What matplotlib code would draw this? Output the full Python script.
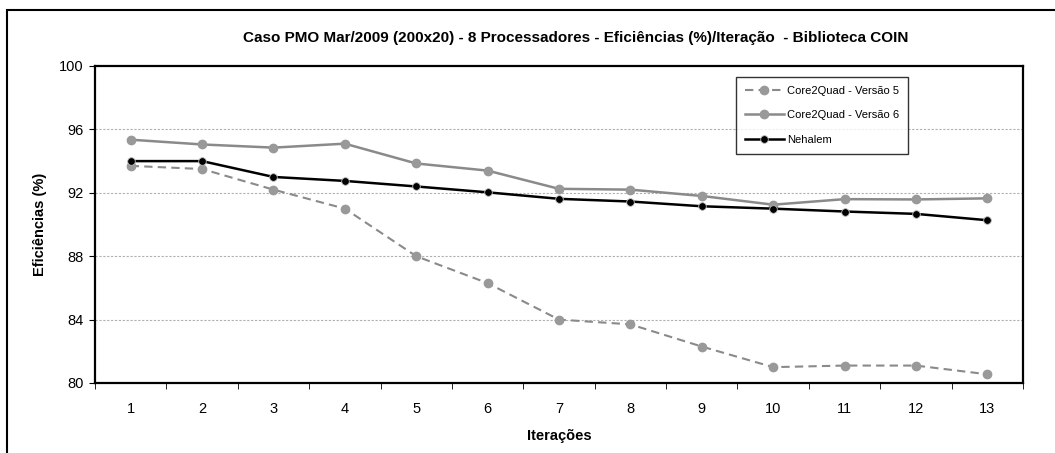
import matplotlib
matplotlib.use("Agg")
import matplotlib.pyplot as plt
import numpy as np
from matplotlib.patches import Rectangle

plt.rcParams["font.family"] = ["Liberation Sans", "DejaVu Sans"]

iteracoes = [1, 2, 3, 4, 5, 6, 7, 8, 9, 10, 11, 12, 13]
versao5 = [93.7, 93.5, 92.2, 91.0, 88.0, 86.3, 84.0, 83.7, 82.3, 81.0, 81.1, 81.1, 80.55]
versao6 = [95.35, 95.05, 94.85, 95.1, 93.85, 93.4, 92.25, 92.2, 91.8, 91.25, 91.6, 91.58, 91.65]
nehalem = [94.0, 94.0, 93.0, 92.75, 92.4, 92.03, 91.62, 91.45, 91.15, 91.0, 90.82, 90.67, 90.27]

W, H = 1055, 453
fig = plt.figure(figsize=(W / 100, H / 100), dpi=100)
ax = fig.add_axes([95 / W, 1 - 383 / H, (1023 - 95) / W, (383 - 66) / H])

# outer chart frame (cropped on the right and bottom)
fig.patches.append(Rectangle((7 / W, -0.1), 1.2, 1 - 10 / H + 0.1,
                             transform=fig.transFigure, fill=False,
                             edgecolor="black", linewidth=1.5))

x = np.arange(len(iteracoes))
ax.plot(x, versao5, color="#8a8a8a", linestyle=(0, (4, 2.5)), linewidth=1.5,
        marker="o", markersize=6, markerfacecolor="#999999",
        markeredgecolor="#999999", label="Core2Quad - Versão 5", zorder=3)
ax.plot(x, versao6, color="#8a8a8a", linewidth=1.8,
        marker="o", markersize=6, markerfacecolor="#999999",
        markeredgecolor="#999999", label="Core2Quad - Versão 6", zorder=3)
ax.plot(x, nehalem, color="black", linewidth=1.8,
        marker="o", markersize=5.5, markerfacecolor="black",
        markeredgecolor="#bbbbbb", markeredgewidth=0.6,
        label="Nehalem", zorder=4)

ax.set_xlim(-0.5, len(iteracoes) - 0.5)
ax.set_ylim(80, 100)
ax.set_yticks(np.arange(80, 101, 4))
ax.set_xticks(x)
ax.set_xticklabels([str(i) for i in iteracoes])
ax.set_xticks(np.arange(-0.5, len(iteracoes)), minor=True)
ax.tick_params(axis="x", which="major", length=0, pad=14, labelsize=10.5)
ax.tick_params(axis="x", which="minor", length=4, direction="out")
ax.tick_params(axis="y", length=4, direction="out", labelsize=10.5, pad=4)

for v in [84, 88, 92, 96]:
    ax.axhline(v, color="#b0b0b0", linestyle=(0, (2, 1.5)), linewidth=0.8, zorder=1)

for s in ax.spines.values():
    s.set_linewidth(1.6)
    s.set_color("black")

ax.set_xlabel("Iterações", fontsize=10.5, fontweight="bold", labelpad=9)
ax.set_ylabel("Eficiências (%)", fontsize=10.5, fontweight="bold", labelpad=9)
fig.text(576 / W, 1 - 38 / H, "Caso PMO Mar/2009 (200x20) - 8 Processadores - Eficiências (%)/Iteração  - Biblioteca COIN",
         ha="center", va="center", fontsize=11, fontweight="bold")

leg = ax.legend(loc="upper left", bbox_to_anchor=((736 - 95) / (1023 - 95), 1 - (77 - 66) / (383 - 66)),
                borderaxespad=0, fontsize=8, frameon=True, fancybox=False, edgecolor="black",
                borderpad=0.8, labelspacing=1.3, handlelength=3.5, handletextpad=0.3)
leg.get_frame().set_linewidth(1.0)

fig.savefig("out.png", dpi=100)
